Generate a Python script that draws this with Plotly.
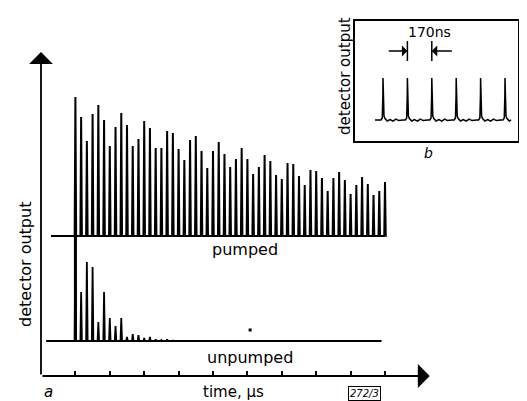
import plotly.graph_objects as go

W, H = 527, 401

# ---------------- data ----------------
period_us = 1 / 6            # pulse period (~170 ns) in microseconds
start_us = 1.0               # first pulse time
tick_us = list(range(1, 11))

pumped_base = 140
pumped_heights = [139, 119, 95, 122, 131, 116, 90, 109, 123, 111, 90, 97, 115, 108, 88, 88,
                  105, 103, 87, 76, 96, 100, 85, 68,
                  85, 94, 82, 69, 77, 88, 77, 62, 69, 81, 75, 61, 57, 73, 72, 60, 51, 66,
                  65, 58, 45, 58, 64, 56, 42, 51, 59, 52, 41, 45, 54]

unpumped_base = 35
unpumped_heights = [105, 49, 79, 74, 19, 49, 23, 15, 23, 4, 7, 6, 3, 4, 1.5, 1, 1.5, 0.5]

inset_period_ns = 170
inset_peaks_ns = [200 + inset_period_ns * i for i in range(6)]
inset_base = 21
inset_height = 42

# ---------------- helpers ----------------
def px(x):
    return x / W

def py(y):
    return 1 - y / H

X_SCALE = 34.4  # px per microsecond (layout)
x_range = [0, (430 - 33) / X_SCALE]

def spikes(times, heights, base, t0, t1, w):
    xs, ys = [t0], [base]
    for t, h in zip(times, heights):
        xs += [t - w, t, t + w]
        ys += [base, base + h, base]
    xs.append(t1)
    ys.append(base)
    return xs, ys

p_times = [start_us + k * period_us for k in range(len(pumped_heights))]
u_times = [start_us + k * period_us for k in range(len(unpumped_heights))]

px_, py_ = spikes(p_times, pumped_heights, pumped_base, 0.29, p_times[-1] + 0.02, 0.022)
ux_, uy_ = spikes(u_times, unpumped_heights, unpumped_base, 0.15, 9.9, 0.022)

# inset trace
shape_dx = [-14, -5, -2, -0.8, 0, 1.2, 3, 7, 14, 30, 50, 70, 90, 110, 140]
shape_dy = [0, 2, 10, 25, 42, 25, 9, 4, 1.5, -1, 0.5, -1.2, 0.8, -0.6, 0]
ix, iy = [144], [inset_base]
for t in inset_peaks_ns:
    for dx, dy in zip(shape_dx, shape_dy):
        if t + dx <= 1092:
            ix.append(t + dx)
            iy.append(inset_base + dy * inset_height / 42)
ix.append(1092)
iy.append(inset_base)

fig = go.Figure()
fig.add_trace(go.Scatter(x=px_, y=py_, mode="lines", line=dict(color="black", width=2),
                         hoverinfo="skip", showlegend=False))
fig.add_trace(go.Scatter(x=ux_, y=uy_, mode="lines", line=dict(color="black", width=1.8),
                         hoverinfo="skip", showlegend=False))
# thick trigger line (first unpumped pulse)
fig.add_trace(go.Scatter(x=[u_times[0], u_times[0]],
                         y=[unpumped_base, unpumped_base + unpumped_heights[0]],
                         mode="lines", line=dict(color="black", width=3),
                         hoverinfo="skip", showlegend=False))
# small speck
fig.add_trace(go.Scatter(x=[6.08], y=[46], mode="markers",
                         marker=dict(symbol="square", size=3, color="black"),
                         hoverinfo="skip", showlegend=False))
fig.add_trace(go.Scatter(x=ix, y=iy, mode="lines", line=dict(color="black", width=1.5),
                         xaxis="x2", yaxis="y2", hoverinfo="skip", showlegend=False))

y_top = 324
fig.update_layout(
    width=W, height=H, margin=dict(l=0, r=0, t=0, b=0),
    paper_bgcolor="white", plot_bgcolor="rgba(0,0,0,0)",
    font=dict(family="DejaVu Sans", color="black"),
    xaxis=dict(domain=[px(33), px(430)], range=x_range, showgrid=False, zeroline=False,
               showline=False, tickvals=tick_us, ticks="inside", ticklen=5, tickwidth=1.5,
               tickcolor="black", showticklabels=False, anchor="y"),
    yaxis=dict(domain=[py(368), py(40)], range=[0, 328], showgrid=False, zeroline=False,
               showline=False, showticklabels=False, ticks="", anchor="x"),
    xaxis2=dict(domain=[px(347), px(510)], range=[5, 5 + (510 - 347) * inset_period_ns / 24.4],
                showgrid=False, zeroline=False, showline=True, mirror=True, linewidth=2,
                linecolor="black", showticklabels=False, ticks="", anchor="y2"),
    yaxis2=dict(domain=[py(133), py(13)], range=[0, 120], showgrid=False, zeroline=False,
                showline=True, mirror=True, linewidth=2, linecolor="black",
                showticklabels=False, ticks="", anchor="x2"),
)

ann = []
# axis arrows
ann.append(dict(x=0, y=y_top, ax=0, ay=0, xref="x", yref="y", axref="x", ayref="y",
                showarrow=True, arrowhead=1, arrowsize=2.2, arrowwidth=1.8, arrowcolor="black", text=""))
ann.append(dict(x=11.3, y=0, ax=0, ay=0, xref="x", yref="y", axref="x", ayref="y",
                showarrow=True, arrowhead=1, arrowsize=2.2, arrowwidth=1.8, arrowcolor="black", text=""))

def label(text, x, y, size, angle=0, italic=False):
    ann.append(dict(x=px(x), y=py(y), xref="paper", yref="paper", text=text, showarrow=False,
                    textangle=angle, font=dict(size=size, family="DejaVu Sans", color="black",
                                               style="italic" if italic else "normal"),
                    xanchor="center", yanchor="middle"))

label("detector output", 17, 257, 16, -90)
label("pumped", 237, 241, 16)
label("unpumped", 242, 349, 16)
label("time, μs", 225, 384, 15)
label("a", 40, 384, 15, italic=True)
label("detector output", 337, 68, 15, -90)
label("170ns", 421, 24, 14)
label("b", 420, 145, 14, italic=True)
ann.append(dict(x=px(356), y=py(385), xref="paper", yref="paper", text="<i>272/3</i>",
                showarrow=False, font=dict(size=10, color="black"), bordercolor="black",
                borderwidth=1, borderpad=1, xanchor="center", yanchor="middle"))

# 170 ns marker arrows on the inset
t_a, t_b = inset_peaks_ns[1], inset_peaks_ns[2]
ann.append(dict(x=t_a, y=90, ax=t_a - 140, ay=90, xref="x2", yref="y2", axref="x2", ayref="y2",
                showarrow=True, arrowhead=1, arrowsize=1.3, arrowwidth=1.4, arrowcolor="black", text=""))
ann.append(dict(x=t_b, y=90, ax=t_b + 150, ay=90, xref="x2", yref="y2", axref="x2", ayref="y2",
                showarrow=True, arrowhead=1, arrowsize=1.3, arrowwidth=1.4, arrowcolor="black", text=""))
fig.update_layout(annotations=ann)

shapes = []
for t in (t_a, t_b):
    shapes.append(dict(type="line", xref="x2", yref="y2", x0=t, x1=t, y0=80, y1=100,
                       line=dict(color="black", width=1.5)))
fig.update_layout(shapes=shapes)

fig.write_html("out.html")
